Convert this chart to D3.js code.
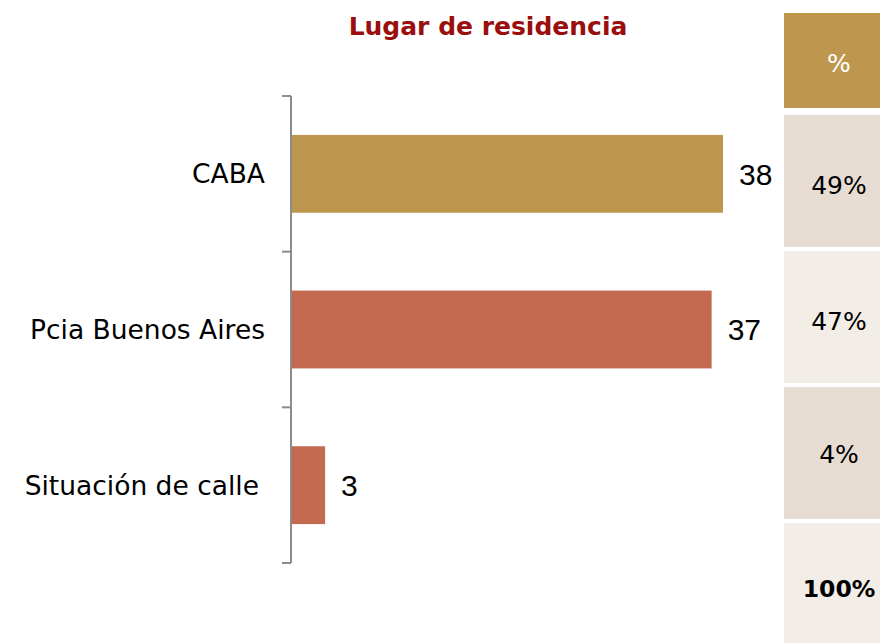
<!DOCTYPE html>
<meta charset="utf-8">
<script src="https://d3js.org/d3.v7.min.js"></script>
<style>
  body { margin: 0; background: #fff; }
  svg { font-family: "DejaVu Sans", sans-serif; }
</style>
<svg id="chart" width="880" height="643"></svg>
<script>
// data
const categories = ["CABA", "Pcia Buenos Aires", "Situación de calle"];
const values = [38, 37, 3];
const barColors = ["#BF964E", "#C46A51", "#C46A51"];
const pctHeader = "%";
const pctLabels = ["49%", "47%", "4%", "100%"];
const title = "Lugar de residencia";

const svg = d3.select("#chart");

// scales
const y = d3.scaleBand()
  .domain(categories)
  .range([96, 563])
  .paddingInner(0.5)
  .paddingOuter(0.25);

const x = d3.scaleLinear()
  .domain([0, 38])
  .range([291, 723]);

// title
svg.append("text")
  .attr("x", 488)
  .attr("y", 35)
  .attr("text-anchor", "middle")
  .attr("font-size", 25)
  .attr("font-weight", "bold")
  .attr("fill", "#9A0E0E")
  .text(title);

// bars
svg.selectAll("rect.bar")
  .data(values)
  .join("rect")
  .attr("class", "bar")
  .attr("x", x(0))
  .attr("y", (d, i) => y(categories[i]))
  .attr("width", d => x(d) - x(0))
  .attr("height", y.bandwidth())
  .attr("fill", (d, i) => barColors[i]);

// value labels
svg.selectAll("text.val")
  .data(values)
  .join("text")
  .attr("class", "val")
  .attr("x", d => x(d) + 16)
  .attr("y", (d, i) => y(categories[i]) + y.bandwidth() / 2)
  .attr("dy", "0.36em")
  .style("font-family", "'Liberation Sans', Arial, sans-serif")
  .attr("font-size", 30)
  .attr("fill", "#000")
  .text(d => d);

// axis: vertical line with ticks at band boundaries
const gap = y.step() - y.bandwidth();
const bounds = categories.map(c => y(c) - gap / 2).concat([y(categories[categories.length - 1]) + y.bandwidth() + gap / 2]);
const axis = svg.append("g").attr("stroke", "#8C8C8C").attr("stroke-width", 2);
axis.append("line")
  .attr("x1", x(0)).attr("x2", x(0))
  .attr("y1", bounds[0]).attr("y2", bounds[bounds.length - 1]);
axis.selectAll("line.tick")
  .data(bounds)
  .join("line")
  .attr("class", "tick")
  .attr("x1", x(0) - 9).attr("x2", x(0))
  .attr("y1", d => d).attr("y2", d => d);

// category labels
svg.selectAll("text.cat")
  .data(categories)
  .join("text")
  .attr("class", "cat")
  .attr("x", (d, i) => i === 2 ? 259 : 265)
  .attr("y", d => y(d) + y.bandwidth() / 2)
  .attr("dy", "0.36em")
  .attr("text-anchor", "end")
  .attr("font-size", 26.5)
  .attr("fill", "#000")
  .text(d => d);

// side table
const tx = 784, tw = 96;
svg.append("rect")
  .attr("x", tx).attr("y", 13).attr("width", tw).attr("height", 95)
  .attr("fill", "#BF964E");
svg.append("text")
  .attr("x", 839).attr("y", 63)
  .attr("dy", "0.36em")
  .attr("text-anchor", "middle")
  .attr("font-size", 25)
  .attr("fill", "#fff")
  .text(pctHeader);

const rows = d3.scaleBand()
  .domain(d3.range(pctLabels.length))
  .range([115, 655])
  .paddingInner(0.03);
const rowFill = ["#E7DCD2", "#F3EDE8", "#E7DCD2", "#F3EDE8"];

svg.selectAll("rect.row")
  .data(pctLabels)
  .join("rect")
  .attr("class", "row")
  .attr("x", tx)
  .attr("y", (d, i) => rows(i))
  .attr("width", tw)
  .attr("height", rows.bandwidth())
  .attr("fill", (d, i) => rowFill[i]);

svg.selectAll("text.pct")
  .data(pctLabels)
  .join("text")
  .attr("class", "pct")
  .attr("x", 839)
  .attr("y", (d, i) => rows(i) + [70, 70, 67, 65][i])
  .attr("dy", "0.36em")
  .attr("text-anchor", "middle")
  .attr("font-size", (d, i) => i === pctLabels.length - 1 ? 23.5 : 25)
  .attr("font-weight", (d, i) => i === pctLabels.length - 1 ? "bold" : "normal")
  .attr("fill", "#000")
  .text(d => d);
</script>
